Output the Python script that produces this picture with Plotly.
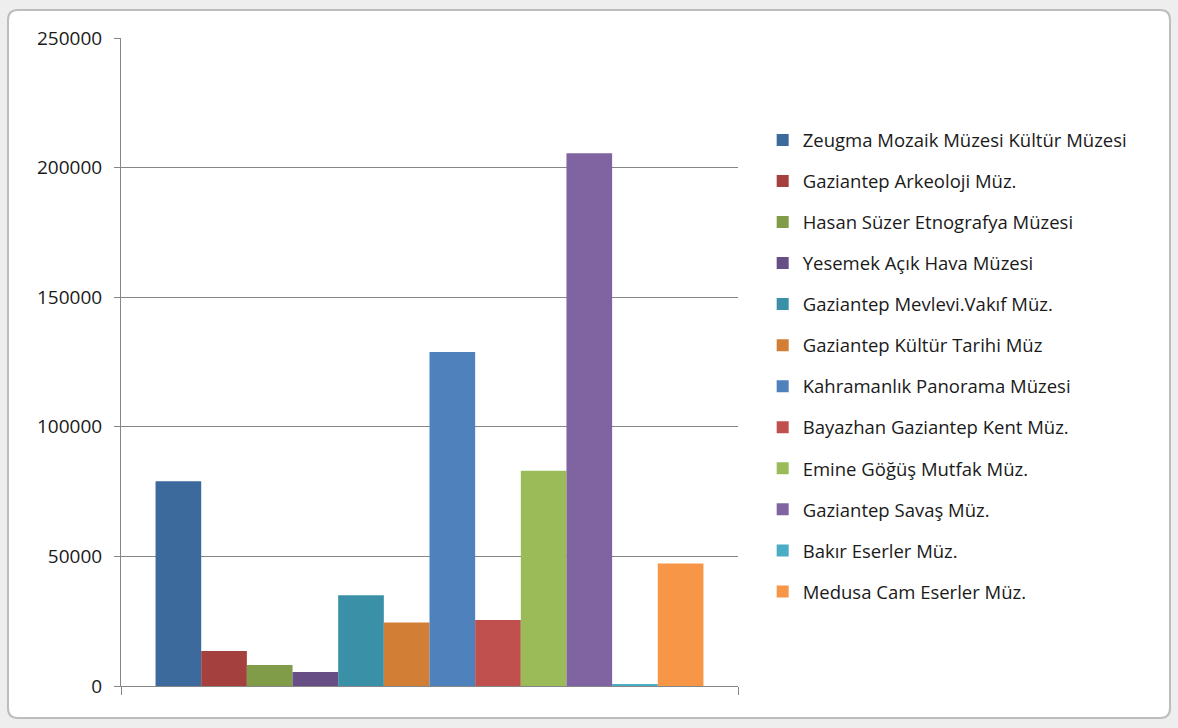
import plotly.graph_objects as go

museums = [
    "Zeugma Mozaik Müzesi Kültür Müzesi",
    "Gaziantep Arkeoloji Müz.",
    "Hasan Süzer Etnografya Müzesi",
    "Yesemek Açık Hava Müzesi",
    "Gaziantep Mevlevi.Vakıf Müz.",
    "Gaziantep Kültür Tarihi Müz",
    "Kahramanlık Panorama Müzesi",
    "Bayazhan Gaziantep Kent Müz.",
    "Emine Göğüş Mutfak Müz.",
    "Gaziantep Savaş Müz.",
    "Bakır Eserler Müz.",
    "Medusa Cam Eserler Müz.",
]
visitors = [79000, 13500, 8100, 5400, 35000, 24500, 128900, 25500, 83000, 205500, 700, 47300]
colors = ["#3D6A9C", "#A4403D", "#809C49", "#674F86", "#3A91A7", "#D27F35",
          "#4F81BD", "#C0504D", "#9BBB59", "#8064A2", "#4BACC6", "#F79646"]
y_ticks = [0, 50000, 100000, 150000, 200000, 250000]

W, H = 1178, 728
L, R, T, B = 121, 738, 38, 686

fig = go.Figure()
for i, (name, v, c) in enumerate(zip(museums, visitors, colors)):
    fig.add_trace(go.Bar(x=[""], y=[v], name=name, marker=dict(color=c, line=dict(width=0)),
                         legendgroup=f"g{i}"))

def px_x(p):
    return (p - L) / (R - L)

def px_y(p):
    return (B - p) / (B - T)

# chart frame (rounded rectangle)
x0, x1, y0, y1, r = 8, 1170, 10, 718, 10
path = (f"M {px_x(x0 + r)} {px_y(y0)} L {px_x(x1 - r)} {px_y(y0)} "
        f"Q {px_x(x1)} {px_y(y0)} {px_x(x1)} {px_y(y0 + r)} "
        f"L {px_x(x1)} {px_y(y1 - r)} Q {px_x(x1)} {px_y(y1)} {px_x(x1 - r)} {px_y(y1)} "
        f"L {px_x(x0 + r)} {px_y(y1)} Q {px_x(x0)} {px_y(y1)} {px_x(x0)} {px_y(y1 - r)} "
        f"L {px_x(x0)} {px_y(y0 + r)} Q {px_x(x0)} {px_y(y0)} {px_x(x0 + r)} {px_y(y0)} Z")

fig.update_layout(
    width=W, height=H,
    margin=dict(l=L, r=W - R, t=T, b=H - B, pad=0),
    paper_bgcolor="#EEEEEE",
    plot_bgcolor="rgba(0,0,0,0)",
    barmode="group",
    bargap=0.112,
    bargroupgap=0,
    font=dict(family="Open Sans", size=18, color="#1a1a1a"),
    shapes=[dict(type="path", path=path, xref="paper", yref="paper",
                 fillcolor="white", line=dict(color="#BDBDBD", width=2), layer="below")],
    legend=dict(x=1.04, xanchor="left", y=0.494, yanchor="middle",
                font=dict(family="Open Sans", size=18.5, color="#1a1a1a"),
                tracegroupgap=14, itemwidth=30, bgcolor="rgba(0,0,0,0)"),
    showlegend=True,
)
fig.update_xaxes(showticklabels=False, showgrid=False, showline=True, linecolor="#868686",
                 linewidth=1, ticks="outside", tickson="boundaries", ticklen=8,
                 tickcolor="#868686", range=[-0.5, 0.5])
fig.update_yaxes(range=[0, 250000], tickvals=y_ticks, tickformat="d",
                 showgrid=True, gridcolor="#868686", gridwidth=1,
                 showline=True, linecolor="#868686", linewidth=1,
                 ticks="outside", ticklen=6, tickcolor="#868686",
                 tickfont=dict(family="Open Sans", size=19, color="#1a1a1a"),
                 zeroline=False, ticklabelstandoff=8)

fig.write_html("out.html", config={"displayModeBar": False},
               post_script="document.body.style.margin='0';")
